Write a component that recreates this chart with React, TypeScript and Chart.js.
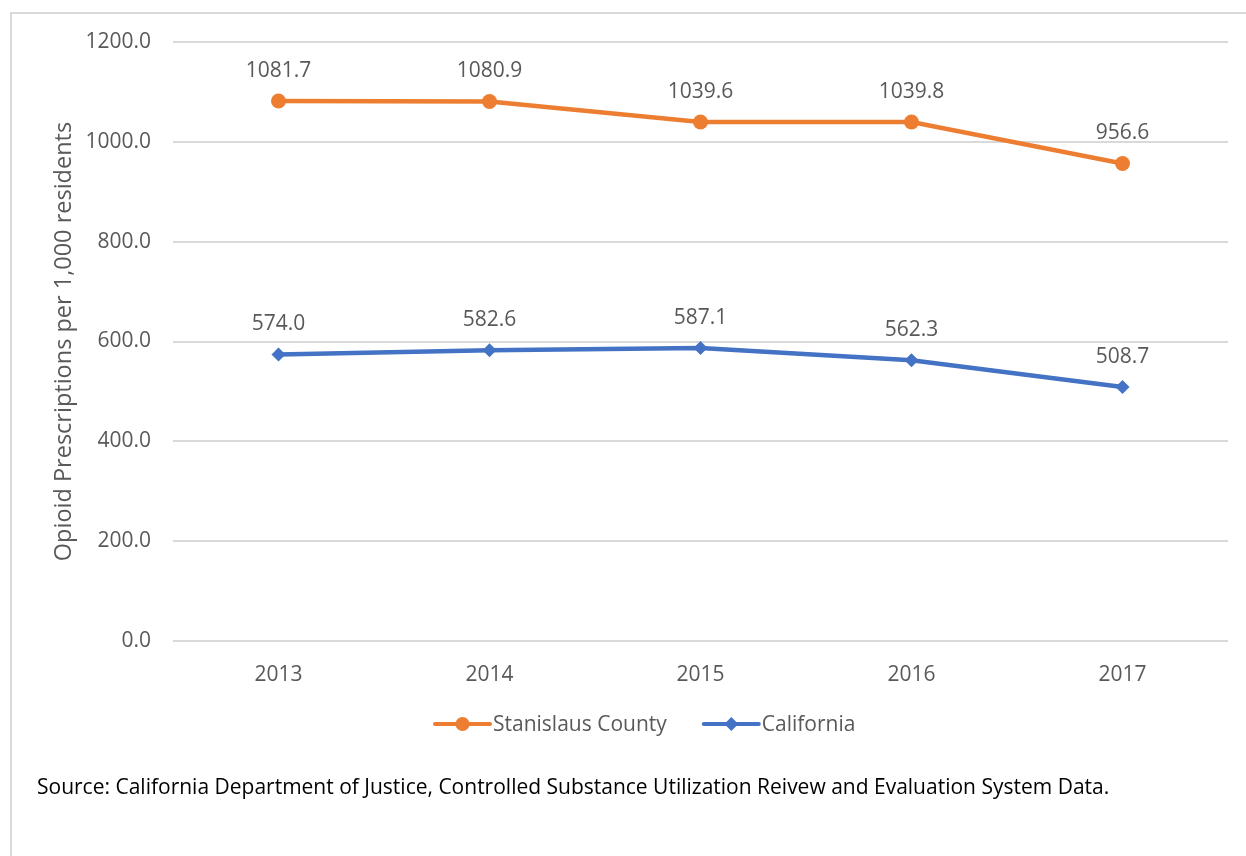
import React, { useEffect, useRef } from "react";
import { Chart, registerables } from "chart.js";

Chart.register(...registerables);

const categories = ["2013", "2014", "2015", "2016", "2017"];
const stanislausValues = [1081.7, 1080.9, 1039.6, 1039.8, 956.6];
const californiaValues = [574.0, 582.6, 587.1, 562.3, 508.7];
const seriesNames = ["Stanislaus County", "California"];
const yAxisTitle = "Opioid Prescriptions per 1,000 residents";
const sourceNote =
  "Source: California Department of Justice, Controlled Substance Utilization Reivew and Evaluation System Data.";

const ORANGE = "#ED7D31";
const BLUE = "#4472C4";
const TEXT_GRAY = "#595959";
const GRID = "#D9D9D9";
const FONT = "'Open Sans', 'Noto Sans', sans-serif";

const dataLabelPlugin = {
  id: "dataLabels",
  afterDatasetsDraw(chart: any) {
    const ctx = chart.ctx;
    ctx.save();
    ctx.font = `21px ${FONT}`;
    ctx.fillStyle = TEXT_GRAY;
    ctx.textAlign = "center";
    ctx.textBaseline = "middle";
    chart.data.datasets.forEach((ds: any, i: number) => {
      const meta = chart.getDatasetMeta(i);
      meta.data.forEach((pt: any, j: number) => {
        ctx.fillText(Number(ds.data[j]).toFixed(1), pt.x, pt.y - 30);
      });
    });
    ctx.restore();
  },
};

const legendAndNotePlugin = {
  id: "legendAndNote",
  afterDraw(chart: any) {
    const ctx = chart.ctx;
    ctx.save();
    const y = 724;
    let x = 435;
    ctx.font = `21px ${FONT}`;
    ctx.textBaseline = "middle";
    ctx.textAlign = "left";
    chart.data.datasets.forEach((ds: any) => {
      const lineLen = 55;
      ctx.strokeStyle = ds.borderColor;
      ctx.lineWidth = 4;
      ctx.lineCap = "round";
      ctx.beginPath();
      ctx.moveTo(x, y);
      ctx.lineTo(x + lineLen, y);
      ctx.stroke();
      ctx.fillStyle = ds.borderColor;
      const cx = x + lineLen / 2;
      ctx.beginPath();
      if (ds.pointStyle === "rectRot") {
        const r = 7;
        ctx.moveTo(cx, y - r);
        ctx.lineTo(cx + r, y);
        ctx.lineTo(cx, y + r);
        ctx.lineTo(cx - r, y);
        ctx.closePath();
      } else {
        ctx.arc(cx, y, 7, 0, Math.PI * 2);
      }
      ctx.fill();
      ctx.fillStyle = TEXT_GRAY;
      const tx = x + lineLen + 3;
      ctx.fillText(ds.label, tx, y + 1.5);
      x = tx + ctx.measureText(ds.label).width + 37;
    });
    ctx.fillStyle = "#000000";
    ctx.font = `21px ${FONT}`;
    ctx.fillText(sourceNote, 37, 788.5);
    ctx.restore();
  },
};

export default function App() {
  const canvasRef = useRef<HTMLCanvasElement | null>(null);

  useEffect(() => {
    document.documentElement.style.overflow = "hidden";
    document.body.style.overflow = "hidden";
    const canvas = canvasRef.current;
    if (!canvas) return;
    const chart = new Chart(canvas, {
      type: "line",
      data: {
        labels: categories,
        datasets: [
          {
            label: seriesNames[0],
            data: stanislausValues,
            borderColor: ORANGE,
            backgroundColor: ORANGE,
            borderWidth: 4.5,
            pointStyle: "circle",
            pointRadius: 7.5,
            pointBackgroundColor: ORANGE,
            pointBorderWidth: 0,
            tension: 0,
          },
          {
            label: seriesNames[1],
            data: californiaValues,
            borderColor: BLUE,
            backgroundColor: BLUE,
            borderWidth: 4.5,
            pointStyle: "rectRot",
            pointRadius: 7,
            pointBackgroundColor: BLUE,
            pointBorderWidth: 0,
            tension: 0,
          },
        ],
      },
      options: {
        animation: false,
        responsive: false,
        devicePixelRatio: 1,
        layout: { padding: { left: 0, right: 18, top: 42, bottom: 170 } },
        plugins: {
          legend: { display: false },
          tooltip: { enabled: false },
        },
        scales: {
          x: {
            offset: true,
            grid: { display: false, drawTicks: false },
            border: { display: false },
            ticks: {
              color: TEXT_GRAY,
              font: { family: FONT, size: 21 },
              padding: 21,
            },
            afterFit(scale: any) {
              scale.height = 45;
            },
          },
          y: {
            min: 0,
            max: 1200,
            grid: { color: GRID, lineWidth: 2, drawTicks: false },
            border: { display: false },
            ticks: {
              stepSize: 200,
              color: TEXT_GRAY,
              font: { family: FONT, size: 21 },
              padding: 22,
              callback: (v: any) => Number(v).toFixed(1),
            },
            title: {
              display: true,
              text: yAxisTitle,
              color: TEXT_GRAY,
              font: { family: FONT, size: 23.5 },
              padding: { top: 50, bottom: 0 },
            },
            afterFit(scale: any) {
              scale.width = 173;
            },
          },
        },
      },
      plugins: [dataLabelPlugin, legendAndNotePlugin],
    });
    return () => chart.destroy();
  }, []);

  return (
    <div style={{ position: "fixed", left: 0, top: 0, width: 1246, height: 856, background: "#fff" }}>
      <div
        style={{
          position: "absolute",
          left: 10,
          top: 12,
          width: 1300,
          height: 900,
          border: "2px solid #D9D9D9",
          boxSizing: "border-box",
        }}
      />
      <canvas
        ref={canvasRef}
        width={1246}
        height={856}
        style={{ position: "absolute", left: 0, top: 0, width: 1246, height: 856 }}
      />
    </div>
  );
}
